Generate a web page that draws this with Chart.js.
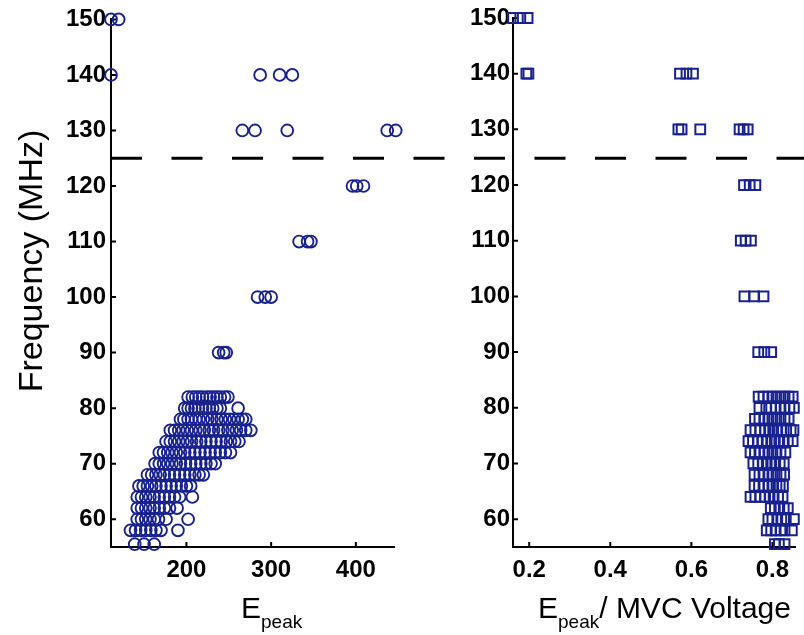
<!DOCTYPE html>
<html>
<head>
<meta charset="utf-8">
<script src="https://cdn.jsdelivr.net/npm/chart.js@4"></script>
<style>
  body { margin: 0; background: #fff; }
  #wrap { position: relative; width: 804px; height: 635px; }
  canvas { position: absolute; left: 0; top: 0; }
</style>
</head>
<body>
<div id="wrap">
  <canvas id="leftChart" width="804" height="635"></canvas>
  <canvas id="rightChart" width="804" height="635"></canvas>
</div>
<script>
// Frequency rows (MHz) shared by both panels
const freqRows = [150, 140, 130, 120, 110, 100, 90, 82, 80, 78, 76, 74, 72, 70, 68, 66, 64, 62, 60, 58, 55.5];

// E_peak values per frequency row (left panel)
const epeakRows = [
  [111, 120],
  [111, 287, 310, 325],
  [266, 281, 319, 437, 447],
  [396, 401, 409],
  [333, 343, 347],
  [284, 293, 300],
  [238, 244, 247],
  [202, 207, 211, 215, 219, 224, 228, 232, 236, 240, 245, 249],
  [198, 202, 206, 210, 214, 219, 223, 227, 231, 236, 240, 261],
  [193, 197, 202, 206, 211, 215, 220, 225, 230, 236, 241, 246, 251, 256, 261, 266, 270],
  [181, 186, 191, 196, 201, 206, 211, 216, 221, 227, 232, 238, 243, 249, 254, 259, 264, 270, 276],
  [176, 181, 186, 191, 196, 201, 206, 212, 217, 223, 229, 235, 241, 247, 252, 257, 262],
  [168, 173, 178, 183, 188, 193, 198, 204, 210, 216, 222, 228, 234, 240, 246, 252],
  [163, 168, 173, 178, 183, 188, 193, 199, 205, 211, 217, 223, 229, 234],
  [154, 159, 164, 169, 174, 180, 186, 192, 198, 204, 210, 215, 220],
  [144, 149, 154, 159, 164, 170, 176, 182, 188, 194, 200, 205],
  [142, 147, 152, 157, 162, 168, 174, 180, 186, 192, 207],
  [142, 147, 152, 157, 162, 168, 174, 180, 189],
  [142, 147, 152, 157, 162, 167, 176, 202],
  [134, 140, 146, 152, 158, 164, 170, 190],
  [139, 150, 162]
];

// E_peak / MVC voltage per frequency row (right panel)
const ratioRows = [
  [0.16, 0.178, 0.196],
  [0.193, 0.198, 0.572, 0.588, 0.604],
  [0.568, 0.576, 0.622, 0.719, 0.729, 0.739],
  [0.73, 0.744, 0.758],
  [0.722, 0.734, 0.747],
  [0.731, 0.755, 0.778],
  [0.765, 0.78, 0.797],
  [0.766, 0.778, 0.79, 0.8, 0.81, 0.82, 0.83, 0.84, 0.85],
  [0.768, 0.785, 0.797, 0.808, 0.82, 0.83, 0.842, 0.853],
  [0.757, 0.768, 0.78, 0.79, 0.8, 0.81, 0.82, 0.83, 0.84],
  [0.746, 0.758, 0.77, 0.782, 0.792, 0.802, 0.812, 0.822, 0.834, 0.845, 0.852],
  [0.741, 0.752, 0.764, 0.775, 0.786, 0.797, 0.806, 0.817, 0.828, 0.838, 0.85],
  [0.746, 0.757, 0.768, 0.78, 0.79, 0.8, 0.81, 0.82, 0.832],
  [0.753, 0.765, 0.776, 0.786, 0.797, 0.807, 0.818, 0.828],
  [0.756, 0.768, 0.778, 0.79, 0.8, 0.81, 0.82, 0.829],
  [0.756, 0.767, 0.778, 0.79, 0.8, 0.81, 0.818, 0.826],
  [0.746, 0.758, 0.77, 0.782, 0.793, 0.803, 0.814, 0.825],
  [0.796, 0.806, 0.817, 0.828, 0.838],
  [0.79, 0.8, 0.812, 0.822, 0.833, 0.853],
  [0.786, 0.797, 0.808, 0.82, 0.83, 0.848],
  [0.806, 0.816, 0.83]
];

// Tick labels
const freqTicks = [60, 70, 80, 90, 100, 110, 120, 130, 140, 150];
const epeakTicks = [200, 300, 400];
const ratioTicks = [0.2, 0.4, 0.6, 0.8];
const cutoffMHz = 125;

const navy = '#18228e';
const tickFont = { family: 'Liberation Sans, Arial, sans-serif', size: 24, weight: 'bold' };

function toPoints(rows) {
  return freqRows.flatMap((f, i) => rows[i].map(v => ({ x: v, y: f })));
}

function yAxis(width, pad) {
  return {
    type: 'linear', min: 55, max: 150,
    afterBuildTicks: s => { s.ticks = freqTicks.map(v => ({ value: v })); },
    afterFit: s => { s.width = width; },
    grid: { display: false, drawTicks: false },
    border: { color: '#000', width: 2 },
    ticks: { padding: pad, color: '#000', font: tickFont, autoSkip: false }
  };
}

function xAxis(min, max, tickVals, fmt) {
  return {
    type: 'linear', min: min, max: max,
    afterBuildTicks: s => { s.ticks = tickVals.map(v => ({ value: v })); },
    afterFit: s => { s.height = 88; },
    grid: { display: false, drawTicks: false },
    border: { color: '#000', width: 2 },
    ticks: { padding: 9, color: '#000', font: tickFont, autoSkip: false, maxRotation: 0, callback: fmt }
  };
}

// small tick marks pointing into the plot
const inwardTicks = {
  id: 'inwardTicks',
  beforeDatasetsDraw(chart) {
    const { ctx, chartArea } = chart;
    const { x, y } = chart.scales;
    ctx.save();
    ctx.strokeStyle = '#000';
    ctx.lineWidth = 2;
    ctx.beginPath();
    y.ticks.forEach(t => {
      const py = y.getPixelForValue(t.value);
      ctx.moveTo(chartArea.left, py);
      ctx.lineTo(chartArea.left + 5, py);
    });
    x.ticks.forEach(t => {
      const px = x.getPixelForValue(t.value);
      ctx.moveTo(px, chartArea.bottom);
      ctx.lineTo(px, chartArea.bottom - 5);
    });
    ctx.stroke();
    ctx.restore();
  }
};

function drawEpeak(ctx, x, rest) {
  ctx.fillStyle = '#000';
  ctx.textBaseline = 'alphabetic';
  ctx.textAlign = 'left';
  ctx.font = '30px Liberation Sans, Arial, sans-serif';
  ctx.fillText('E', x, 618);
  const w = ctx.measureText('E').width;
  ctx.font = '19px Liberation Sans, Arial, sans-serif';
  ctx.fillText('peak', x + w, 628);
  if (rest) {
    const w2 = ctx.measureText('peak').width;
    ctx.font = '30px Liberation Sans, Arial, sans-serif';
    ctx.fillText(rest, x + w + w2, 618);
  }
}

const leftDecor = {
  id: 'leftDecor',
  afterDraw(chart) {
    const { ctx, chartArea } = chart;
    const py = chart.scales.y.getPixelForValue(cutoffMHz);
    ctx.save();
    ctx.strokeStyle = '#000';
    ctx.lineWidth = 3.2;
    ctx.setLineDash([31, 29.5]);
    ctx.beginPath();
    ctx.moveTo(chartArea.left, py);
    ctx.lineTo(chart.width, py);
    ctx.stroke();
    ctx.setLineDash([]);
    // y title
    ctx.translate(42, 261);
    ctx.rotate(-Math.PI / 2);
    ctx.font = '34px Liberation Sans, Arial, sans-serif';
    ctx.fillStyle = '#000';
    ctx.textAlign = 'center';
    ctx.textBaseline = 'alphabetic';
    ctx.fillText('Frequency (MHz)', 0, 0);
    ctx.restore();
    ctx.save();
    drawEpeak(ctx, chartArea.left + 130, '');
    ctx.restore();
  }
};

const rightDecor = {
  id: 'rightDecor',
  afterDraw(chart) {
    const { ctx, chartArea } = chart;
    ctx.save();
    drawEpeak(ctx, chartArea.left + 25, '/ MVC Voltage');
    ctx.restore();
  }
};

const common = {
  responsive: false,
  animation: false,
  events: [],
  plugins: { legend: { display: false }, tooltip: { enabled: false } }
};

new Chart(document.getElementById('leftChart').getContext('2d'), {
  type: 'scatter',
  data: {
    datasets: [{
      label: 'E_peak',
      data: toPoints(epeakRows),
      pointStyle: 'circle',
      pointRadius: 5.9,
      borderWidth: 1.9,
      borderColor: navy,
      backgroundColor: 'rgba(0,0,0,0)',
      clip: false
    }]
  },
  options: Object.assign({}, common, {
    layout: { padding: { top: 18, right: 410, left: 0, bottom: 0 } },
    scales: {
      x: xAxis(111, 445, epeakTicks, v => String(v)),
      y: yAxis(111, 5)
    }
  }),
  plugins: [inwardTicks, leftDecor]
});

new Chart(document.getElementById('rightChart').getContext('2d'), {
  type: 'scatter',
  data: {
    datasets: [{
      label: 'E_peak / MVC Voltage',
      data: toPoints(ratioRows),
      pointStyle: 'rect',
      pointRadius: 6.9,
      borderWidth: 2,
      borderColor: navy,
      backgroundColor: 'rgba(0,0,0,0)',
      clip: false
    }]
  },
  options: Object.assign({}, common, {
    layout: { padding: { top: 18, right: 6, left: 453, bottom: 0 } },
    scales: {
      x: xAxis(0.16, 0.856, ratioTicks, v => v.toFixed(1)),
      y: yAxis(60, 3)
    }
  }),
  plugins: [inwardTicks, rightDecor]
});
</script>
</body>
</html>
